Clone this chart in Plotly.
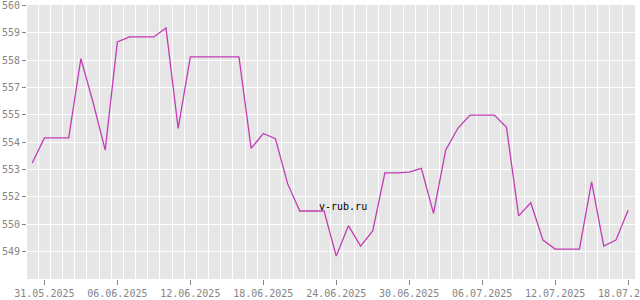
import plotly.graph_objects as go

dates = ["2025-05-30", "2025-05-31", "2025-06-01", "2025-06-02", "2025-06-03", "2025-06-04",
         "2025-06-05", "2025-06-06", "2025-06-07", "2025-06-08", "2025-06-09", "2025-06-10",
         "2025-06-11", "2025-06-12", "2025-06-13", "2025-06-14", "2025-06-15", "2025-06-16",
         "2025-06-17", "2025-06-18", "2025-06-19", "2025-06-20", "2025-06-21", "2025-06-22",
         "2025-06-23", "2025-06-24", "2025-06-25", "2025-06-26", "2025-06-27", "2025-06-28",
         "2025-06-29", "2025-06-30", "2025-07-01", "2025-07-02", "2025-07-03", "2025-07-04",
         "2025-07-05", "2025-07-06", "2025-07-07", "2025-07-08", "2025-07-09", "2025-07-10",
         "2025-07-11", "2025-07-12", "2025-07-13", "2025-07-14", "2025-07-15", "2025-07-16",
         "2025-07-17", "2025-07-18"]
values = [553.17, 554.32, 554.32, 554.32, 557.94, 555.95,
          553.76, 558.70, 558.93, 558.93, 558.93, 559.34,
          554.75, 558.02, 558.02, 558.02, 558.02, 558.02,
          553.84, 554.52, 554.28, 552.23, 550.98, 550.98,
          550.98, 548.92, 550.31, 549.38, 550.07, 552.72,
          552.72, 552.76, 552.93, 550.87, 553.76, 554.76,
          555.36, 555.36, 555.36, 554.80, 550.76, 551.36,
          549.65, 549.24, 549.24, 549.24, 552.31, 549.38,
          549.65, 551.02]

x_tickvals = ["2025-05-31", "2025-06-06", "2025-06-12", "2025-06-18", "2025-06-24",
              "2025-06-30", "2025-07-06", "2025-07-12", "2025-07-18"]
x_ticktext = ["31.05.2025", "06.06.2025", "12.06.2025", "18.06.2025", "24.06.2025",
              "30.06.2025", "06.07.2025", "12.07.2025", "18.07.2025"]

y_tickvals = [560.375, 559.125, 557.875, 556.625, 555.375, 554.125, 552.875, 551.625, 550.375, 549.125]
y_ticktext = ["560", "559", "558", "557", "555", "554", "553", "552", "550", "549"]
y_range = [547.875, 560.39]
x_range = ["2025-05-29 13:40", "2025-07-18 13:40"]

font = dict(family="DejaVu Sans Mono", size=10, color="#858585")

fig = go.Figure()
fig.add_trace(go.Scatter(x=dates, y=values, mode="lines",
                         line=dict(color="#c23cb4", width=1.3), hoverinfo="skip"))

fig.update_layout(
    width=640, height=300,
    margin=dict(l=27, r=5, t=5, b=21, autoexpand=False),
    paper_bgcolor="white", plot_bgcolor="#e6e6e6",
    showlegend=False,
    font=font,
)
fig.update_xaxes(
    type="date", range=x_range, automargin=False,
    tickmode="array", tickvals=x_tickvals, ticktext=x_ticktext,
    ticks="outside", ticklen=5, tickcolor="#858585", tickwidth=1,
    showgrid=False, zeroline=False, showline=False,
    tickfont=font, ticklabeloverflow="allow",
    minor=dict(tick0="2025-05-30 12:00", dtick=86400000, showgrid=True,
               gridcolor="white", gridwidth=1, ticks=""),
)
fig.update_yaxes(
    range=y_range, automargin=False,
    tickmode="array", tickvals=y_tickvals, ticktext=y_ticktext,
    ticks="outside", ticklen=4, tickcolor="#858585", tickwidth=1,
    showgrid=True, gridcolor="white", gridwidth=1,
    zeroline=False, showline=False,
    tickfont=font, ticklabeloverflow="allow",
)
fig.add_annotation(text="v-rub.ru", xref="paper", yref="paper",
                   x=0.5195, y=0.263, xanchor="center", yanchor="middle",
                   showarrow=False,
                   font=dict(family="DejaVu Sans Mono", size=10, color="black"))

fig.write_html("out.html")
